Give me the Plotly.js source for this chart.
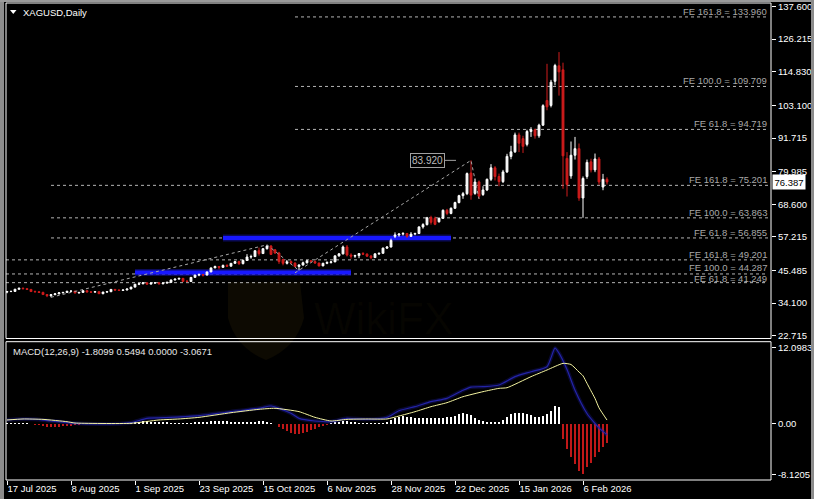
<!DOCTYPE html>
<html><head><meta charset="utf-8">
<script src="https://cdn.plot.ly/plotly-3.0.1.min.js"></script>
<style>html,body{margin:0;padding:0;background:#000;overflow:hidden;} #chart{width:814px;height:499px;}</style>
</head><body><div id="chart"></div>
<script>
// ---------------- DATA ----------------
const barDates = [
'2025-07-17','2025-07-18','2025-07-21','2025-07-22','2025-07-23','2025-07-24','2025-07-25','2025-07-28','2025-07-29','2025-07-30','2025-07-31',
'2025-08-01','2025-08-04','2025-08-05','2025-08-06','2025-08-07','2025-08-08','2025-08-11','2025-08-12','2025-08-13','2025-08-14','2025-08-15','2025-08-18','2025-08-19','2025-08-20','2025-08-21','2025-08-22','2025-08-25','2025-08-26','2025-08-27','2025-08-28','2025-08-29',
'2025-09-01','2025-09-02','2025-09-03','2025-09-04','2025-09-05','2025-09-08','2025-09-09','2025-09-10','2025-09-11','2025-09-12','2025-09-15','2025-09-16','2025-09-17','2025-09-18','2025-09-19','2025-09-22','2025-09-23','2025-09-24','2025-09-25','2025-09-26','2025-09-29','2025-09-30',
'2025-10-01','2025-10-02','2025-10-03','2025-10-06','2025-10-07','2025-10-08','2025-10-09','2025-10-10','2025-10-13','2025-10-14','2025-10-15','2025-10-16','2025-10-17','2025-10-20','2025-10-21','2025-10-22','2025-10-23','2025-10-24','2025-10-27','2025-10-28','2025-10-29','2025-10-30','2025-10-31',
'2025-11-03','2025-11-04','2025-11-05','2025-11-06','2025-11-07','2025-11-10','2025-11-11','2025-11-12','2025-11-13','2025-11-14','2025-11-17','2025-11-18','2025-11-19','2025-11-20','2025-11-21','2025-11-24','2025-11-25','2025-11-26','2025-11-27','2025-11-28',
'2025-12-01','2025-12-02','2025-12-03','2025-12-04','2025-12-05','2025-12-08','2025-12-09','2025-12-10','2025-12-11','2025-12-12','2025-12-15','2025-12-16','2025-12-17','2025-12-18','2025-12-19','2025-12-22','2025-12-23','2025-12-24','2025-12-26','2025-12-29','2025-12-30','2025-12-31',
'2026-01-02','2026-01-05','2026-01-06','2026-01-07','2026-01-08','2026-01-09','2026-01-12','2026-01-13','2026-01-14','2026-01-15','2026-01-16','2026-01-19','2026-01-20','2026-01-21','2026-01-22','2026-01-23','2026-01-26','2026-01-27','2026-01-28','2026-01-29','2026-01-30',
'2026-02-02','2026-02-03','2026-02-04','2026-02-05','2026-02-06','2026-02-09','2026-02-10','2026-02-11','2026-02-12','2026-02-13','2026-02-16'];

const openP = [37.95,38.15,38.20,38.95,39.30,39.15,38.90,38.15,38.05,37.85,37.10,
36.70,37.05,37.35,37.70,37.85,38.25,38.30,37.65,37.85,38.45,38.00,37.95,38.10,37.40,37.95,38.10,38.90,38.65,38.55,38.70,39.05,
39.70,40.70,40.85,41.20,40.75,41.10,41.20,40.85,41.10,41.35,42.20,42.50,42.75,41.75,41.65,43.10,43.90,44.05,43.90,45.00,46.40,46.90,
46.60,47.25,47.00,48.00,48.60,47.90,49.00,50.20,50.35,52.40,51.40,53.10,54.00,52.70,51.60,49.30,48.00,48.60,48.10,46.90,47.40,48.20,48.90,
48.60,48.10,47.10,48.00,48.30,48.50,50.60,51.30,53.70,50.90,50.50,50.70,51.40,51.20,50.50,50.00,51.30,51.50,53.30,53.70,
57.40,57.90,58.20,58.40,57.40,58.20,58.40,60.70,61.50,64.00,63.70,62.50,63.70,66.50,65.40,67.20,69.20,71.60,72.30,79.50,72.40,76.40,
72.00,73.60,77.30,81.30,78.30,76.50,79.90,85.30,86.90,92.80,91.50,89.50,94.00,94.60,92.50,96.20,104.80,103.10,111.50,116.90,115.50,
84.60,78.50,85.70,88.00,70.80,78.30,83.40,80.60,84.40,74.60,77.30];

const highP = [38.35,38.45,39.10,39.45,39.55,39.35,39.05,38.50,38.30,38.10,37.25,
37.25,37.50,37.85,38.00,38.35,38.55,38.45,37.95,38.55,38.55,38.20,38.20,38.15,38.10,38.30,39.00,39.05,38.90,38.80,39.15,39.80,
40.80,41.00,41.45,41.30,41.30,41.40,41.50,41.20,41.60,42.30,42.60,42.95,42.90,42.20,43.20,44.00,44.45,44.30,45.10,46.50,47.20,47.00,
47.60,47.70,48.10,48.80,48.90,49.30,51.20,51.00,52.50,53.50,53.30,54.45,54.40,53.00,52.00,49.60,49.00,49.00,48.30,47.70,48.60,49.20,49.10,
49.00,48.20,48.20,48.70,48.80,50.70,51.60,54.20,54.40,51.50,51.00,51.60,51.90,51.50,50.90,51.50,51.70,53.50,54.00,56.60,
58.80,58.50,58.90,58.60,58.90,58.70,60.90,62.00,64.20,64.60,64.30,64.00,66.80,67.00,67.50,69.50,71.90,72.90,79.70,83.92,77.60,76.90,
74.90,77.60,82.60,81.90,79.30,80.60,86.20,89.00,93.60,93.60,92.50,94.60,95.50,95.00,96.70,103.50,117.60,112.00,117.60,121.70,118.00,
86.80,90.50,92.10,89.80,78.30,84.20,84.50,86.30,85.10,79.20,78.00];

const lowP = [37.55,37.95,38.05,38.80,38.95,38.75,38.00,37.95,37.70,37.00,36.20,
36.15,36.90,37.20,37.50,37.70,38.00,37.50,37.45,37.80,37.85,37.80,37.85,37.30,37.20,37.80,37.95,38.55,38.40,38.35,38.55,38.95,
39.60,40.40,40.70,40.50,40.60,40.95,40.70,40.70,40.90,41.30,42.00,42.30,41.50,41.45,41.60,42.95,43.50,43.40,43.80,44.90,46.30,45.90,
46.40,46.80,46.90,47.80,47.40,47.60,48.90,49.60,50.20,50.70,51.30,52.80,50.90,51.30,47.80,47.30,47.60,47.70,46.70,45.52,47.20,47.90,48.30,
47.80,46.90,47.00,47.70,47.90,48.40,50.30,51.10,50.40,49.60,49.90,49.80,50.90,50.20,49.40,49.90,50.90,51.40,53.00,53.50,
56.80,57.30,57.70,56.90,57.20,57.80,58.20,60.10,61.20,61.50,61.30,62.20,63.50,64.80,65.10,67.00,68.90,70.50,71.80,70.20,71.90,70.47,
71.50,73.20,76.70,76.90,74.90,76.00,79.50,84.30,86.50,86.80,86.50,88.80,92.10,91.50,91.80,95.90,101.40,102.40,110.10,106.50,74.00,
71.30,77.50,84.20,69.80,63.90,77.50,79.70,79.80,75.40,73.50,75.50];

const closeP = [38.15,38.20,38.95,39.30,39.15,38.90,38.15,38.05,37.85,37.10,36.70,
37.05,37.35,37.70,37.85,38.25,38.30,37.65,37.85,38.45,38.00,37.95,38.10,37.40,37.95,38.10,38.90,38.65,38.55,38.70,39.05,39.70,
40.70,40.85,41.20,40.75,41.10,41.20,40.85,41.10,41.35,42.20,42.50,42.75,41.70,41.65,43.10,43.90,44.05,43.90,45.00,46.40,46.90,46.60,
47.25,47.00,48.00,48.60,47.90,49.00,50.20,50.35,52.40,51.40,53.10,54.00,51.10,51.60,48.60,48.00,48.60,48.10,46.90,47.40,48.20,48.90,48.60,
48.10,47.10,48.00,48.30,48.50,50.60,51.30,53.70,50.90,50.50,50.70,51.40,51.20,50.50,50.00,51.30,51.50,53.30,53.70,56.00,
57.90,58.20,58.40,57.40,58.20,58.40,60.70,61.50,63.90,62.30,61.60,63.70,66.50,65.40,67.20,69.20,71.60,72.30,79.30,71.80,76.40,71.40,
73.60,77.30,81.30,78.30,76.50,79.90,85.30,86.90,92.80,89.90,88.80,94.00,94.60,92.50,96.20,103.00,102.60,111.20,117.00,114.80,85.50,
75.50,85.70,88.00,70.80,77.60,83.20,80.60,84.40,76.40,77.30,76.387];

// MACD(12,26,9) panel values
const histVal = [0.1,0.1,0.1,0.1,0.1,0.05,0,
-0.2,-0.3,-0.4,-0.5,-0.5,-0.5,-0.5,-0.45,-0.4,-0.35,-0.3,-0.2,
-0.1,-0.1,-0.1,-0.1,-0.1,-0.1,-0.1,-0.05,0,0.02,0.02,0.05,
0.2,0.3,0.3,0.35,0.35,0.3,0.3,0.25,0.2,0.2,0.15,0.15,0.1,0.05,0.05,0.05,
0.2,0.25,0.3,0.3,0.35,0.4,0.4,0.35,0.35,0.3,0.3,0.3,0.25,0.25,0.3,0.3,0.35,0.45,0.3,0.1,0,
-0.5,-0.9,-1.2,-1.5,-1.6,-1.6,-1.5,-1.3,-1.1,-0.9,-0.6,-0.4,-0.2,
0.1,0.2,0.3,0.4,0.35,0.3,0.2,0.1,0.05,0.02,0.02,0.02,0.02,0.05,
0.3,0.6,0.9,1.0,1.2,1.1,1.0,0.95,0.9,0.85,0.8,0.8,0.8,0.85,0.9,1.0,1.1,1.2,
1.5,1.6,1.5,1.3,0.8,0.6,0.4,0.3,0.3,0.2,0.2,
0.5,1.0,1.5,1.7,1.6,1.6,1.5,1.3,1.0,1.0,1.2,1.5,2.0,2.8,2.6,
-2.5,-4.0,-5.3,-6.5,-7.5,-8.1,-7.0,-6.3,-5.3,-4.5,-3.8,-3.07];
const macdIdx = [0,4,7,11,17,23,31,35,41,48,56,63,66,68,71,73,77,81,85,90,95,98,102,106,110,114,116,119,123,127,131,135,137,138,140,142,145,147,148,150];
const macdVal = [0.56,0.72,0.68,0.4,0.03,-0.08,0.13,0.82,0.98,1.25,1.88,2.42,2.79,2.42,1.62,0.82,0.4,0.29,0.82,0.66,0.98,2.04,2.68,3.48,4.01,5.3,5.8,5.87,6.13,7.46,8.25,9.05,12.0,11.2,8.6,5.3,1.6,0.0,-0.7,-1.81];
const sigIdx = [0,4,9,15,17,31,38,43,48,56,63,67,73,77,81,85,90,95,98,102,106,110,114,119,123,125,131,135,139,141,143,144,145,146,147,148,149,150];
const sigVal = [0.56,0.72,0.66,0.29,0.08,0.03,0.56,0.72,0.98,1.72,2.26,2.42,1.89,0.98,0.4,0.66,0.72,0.72,1.19,1.88,2.68,3.32,4.27,5.07,5.6,5.7,7.46,8.52,9.58,9.4,8.2,7.6,6.4,5.2,4.0,2.5,1.5,0.55];
const macdLegend = 'MACD(12,26,9) -1.8099 0.5494 0.0000 -3.0671';

// Fibonacci expansion levels
const fibLevels = [133.960,109.709,94.719,75.201,63.863,56.855,49.201,44.287,41.249];
const fibLabels = ['FE 161.8 = 133.960','FE 100.0 = 109.709','FE 61.8 = 94.719','FE 161.8 = 75.201','FE 100.0 = 63.863','FE 61.8 = 56.855','FE 161.8 = 49.201','FE 100.0 = 44.287','FE 61.8 = 41.249'];
const fibStartIdx = [72,72,72,11,11,11,0,0,0];
// Fibonacci anchor points (A, B, C) for the two visible expansions
const fibMidIdx = [11,65,73];   const fibMidPrice = [36.15,54.45,45.517];
const fibTopIdx = [72,116,118]; const fibTopPrice = [44.68,83.92,70.47];
const peakLabel = 83.920;
// Blue horizontal zones
const bandStartIdx = [54,32]; const bandEndIdx = [111,86]; const bandLevel = [56.8,44.8];
// Axis ticks
const priceTicks = [137.600,126.215,114.830,103.100,91.715,79.985,68.600,57.215,45.485,34.100,22.715];
const macdTicks = [12.0983,0,-8.1205];
const macdTickText = ['12.0983','0.00','-8.1205'];
const tickDates = ['2025-07-17','2025-08-08','2025-09-01','2025-09-23','2025-10-15','2025-11-06','2025-11-28','2025-12-22','2026-01-15','2026-02-06'];
const tickLabels = ['17 Jul 2025','8 Aug 2025','1 Sep 2025','23 Sep 2025','15 Oct 2025','6 Nov 2025','28 Nov 2025','22 Dec 2025','15 Jan 2026','6 Feb 2026'];
const symbolTitle = 'XAGUSD,Daily';
const lastPrice = 76.387;

// ---------------- LAYOUT HELPERS ----------------
const W = 814, H = 499, ML = 6, MR = 43, MT = 3, MB = 19;
const PW = W - ML - MR, PH = H - MT - MB;
const PX = p => (p - ML) / PW;
const PY = p => (H - MB - p) / PH;
const FONT = 'Liberation Sans, Arial, sans-serif';
const RED = '#d01c1c';
const xEnd = 190.25;

const traces = [];
traces.push({
  type: 'candlestick', x: barDates, open: openP, high: highP, low: lowP, close: closeP,
  xaxis: 'x', yaxis: 'y',
  increasing: {line: {color: '#ffffff', width: 1}, fillcolor: '#ffffff'},
  decreasing: {line: {color: RED, width: 1}, fillcolor: RED},
  whiskerwidth: 0, hoverinfo: 'skip', showlegend: false
});
traces.push({type: 'scatter', mode: 'lines', x: fibMidIdx.map(i => barDates[i]), y: fibMidPrice,
  line: {color: '#a8a8a8', width: 1, dash: 'dot'}, xaxis: 'x', yaxis: 'y', hoverinfo: 'skip', showlegend: false});
traces.push({type: 'scatter', mode: 'lines', x: fibTopIdx.map(i => barDates[i]), y: fibTopPrice,
  line: {color: '#a8a8a8', width: 1, dash: 'dot'}, xaxis: 'x', yaxis: 'y', hoverinfo: 'skip', showlegend: false});

traces.push({type: 'bar', x: barDates, y: histVal, width: 0.3,
  marker: {color: histVal.map(v => v >= 0 ? '#ffffff' : '#c01818'), line: {width: 0}},
  xaxis: 'x2', yaxis: 'y2', hoverinfo: 'skip', showlegend: false});
traces.push({type: 'scatter', mode: 'lines', x: macdIdx.map(i => barDates[i]), y: macdVal,
  line: {color: 'rgba(40,40,220,0.22)', width: 4, shape: 'spline', smoothing: 0.6}, xaxis: 'x2', yaxis: 'y2', hoverinfo: 'skip', showlegend: false});
traces.push({type: 'scatter', mode: 'lines', x: macdIdx.map(i => barDates[i]), y: macdVal,
  line: {color: '#2424a8', width: 1.2, shape: 'spline', smoothing: 0.6}, xaxis: 'x2', yaxis: 'y2', hoverinfo: 'skip', showlegend: false});
traces.push({type: 'scatter', mode: 'lines', x: sigIdx.map(i => barDates[i]), y: sigVal,
  line: {color: '#f4f4a0', width: 1, shape: 'spline', smoothing: 0.5}, xaxis: 'x2', yaxis: 'y2', hoverinfo: 'skip', showlegend: false});

const shapes = [];
// watermark (very faint)
shapes.push({type: 'path', xref: 'paper', yref: 'paper', layer: 'below',
  path: `M ${PX(228)} ${PY(282)} L ${PX(300)} ${PY(282)} L ${PX(304)} ${PY(318)} Q ${PX(296)} ${PY(348)} ${PX(266)} ${PY(360)} Q ${PX(236)} ${PY(348)} ${PX(228)} ${PY(318)} Z`,
  fillcolor: 'rgba(120,95,20,0.11)', line: {width: 0}});
// fib levels
fibLevels.forEach((lv, k) => {
  shapes.push({type: 'line', xref: 'x', yref: 'y', x0: fibStartIdx[k] === 0 ? -0.25 : fibStartIdx[k], x1: xEnd, y0: lv, y1: lv,
    line: {color: '#b4b4b4', width: 1, dash: '3px,3px'}, layer: 'below'});
});
// blue zones
bandLevel.forEach((lv, k) => {
  shapes.push({type: 'line', xref: 'x', yref: 'y', x0: bandStartIdx[k], x1: bandEndIdx[k], y0: lv, y1: lv,
    line: {color: 'rgba(30,30,255,0.35)', width: 7}, layer: 'below'});
  shapes.push({type: 'line', xref: 'x', yref: 'y', x0: bandStartIdx[k], x1: bandEndIdx[k], y0: lv, y1: lv,
    line: {color: '#1818ff', width: 4}, layer: 'below'});
});
// frames
shapes.push({type: 'rect', xref: 'paper', yref: 'paper', x0: 0, x1: 1, y0: PY(338.5), y1: 1, line: {color: '#ffffff', width: 1}});
shapes.push({type: 'rect', xref: 'paper', yref: 'paper', x0: 0, x1: 1, y0: 0, y1: PY(341.7), line: {color: '#ffffff', width: 1}});
// outer window border
shapes.push({type: 'rect', xref: 'paper', yref: 'paper', x0: PX(0), x1: PX(4), y0: PY(499), y1: PY(0), fillcolor: '#8c8c8c', line: {width: 0}});
shapes.push({type: 'rect', xref: 'paper', yref: 'paper', x0: PX(0), x1: PX(814), y0: PY(2), y1: PY(0), fillcolor: '#9a9a9a', line: {width: 0}});
shapes.push({type: 'rect', xref: 'paper', yref: 'paper', x0: PX(811), x1: PX(814), y0: PY(499), y1: PY(0), fillcolor: '#8c8c8c', line: {width: 0}});
// title triangle
shapes.push({type: 'path', xref: 'paper', yref: 'paper',
  path: `M ${PX(10)} ${PY(10)} L ${PX(16.5)} ${PY(10)} L ${PX(13.25)} ${PY(14)} Z`, fillcolor: '#ffffff', line: {width: 0}});

const annotations = [];
annotations.push({xref: 'paper', yref: 'paper', x: PX(21), y: PY(12.5), xanchor: 'left', yanchor: 'middle',
  text: symbolTitle, showarrow: false, font: {family: FONT, size: 9.5, color: '#ffffff'}});
annotations.push({xref: 'paper', yref: 'paper', x: PX(11), y: PY(351), xanchor: 'left', yanchor: 'middle',
  text: macdLegend, showarrow: false, font: {family: FONT, size: 9.5, color: '#e8e8e8'}});
fibLevels.forEach((lv, k) => {
  annotations.push({xref: 'x', yref: 'y', x: xEnd, y: lv, xanchor: 'right', yanchor: 'bottom', yshift: k === 8 ? -2 : (k === 7 ? 0 : -1),
    text: fibLabels[k], showarrow: false, borderpad: 0, font: {family: FONT, size: 9.5, color: '#a8a8a8'}});
});
annotations.push({xref: 'x', yref: 'y', x: 112.25, y: peakLabel, text: peakLabel.toFixed(3), showarrow: true,
  arrowhead: 0, arrowwidth: 1, arrowcolor: '#a0a0a0', ax: -29, ay: 0, standoff: 0,
  bordercolor: '#a0a0a0', borderwidth: 1, borderpad: 1, bgcolor: '#000000',
  font: {family: FONT, size: 10, color: '#bdbdbd'}});
annotations.push({xref: 'paper', yref: 'y', x: 1, y: lastPrice, xanchor: 'left', yanchor: 'middle', xshift: 1,
  text: lastPrice.toFixed(3), showarrow: false, bgcolor: '#ffffff', borderpad: 1.5,
  font: {family: FONT, size: 9.5, color: '#000000'}});
annotations.push({xref: 'paper', yref: 'paper', x: PX(312), y: PY(318), xanchor: 'left', yanchor: 'middle',
  text: 'WikiFX', showarrow: false, font: {family: FONT, size: 44, color: 'rgba(110,90,25,0.06)'}});

const axisFont = {family: FONT, size: 9.5, color: '#ffffff'};
const layout = {
  width: W, height: H, margin: {l: ML, r: MR, t: MT, b: MB, pad: 0},
  paper_bgcolor: '#000000', plot_bgcolor: '#000000', showlegend: false, dragmode: false,
  boxgap: 0.35, bargap: 0,
  xaxis: {domain: [0, 1], anchor: 'y', type: 'category', range: [-0.25, 191], showticklabels: false, ticks: '',
    showgrid: false, zeroline: false, showline: false, rangeslider: {visible: false}, fixedrange: true},
  yaxis: {domain: [PY(338.5), 1], anchor: 'x', side: 'right', range: [21.77, 138.82],
    tickvals: priceTicks, ticktext: priceTicks.map(v => v.toFixed(3)), ticks: 'outside', ticklen: 4, tickcolor: '#ffffff',
    tickfont: axisFont, showgrid: false, zeroline: false, showline: false, fixedrange: true},
  xaxis2: {domain: [0, 1], anchor: 'y2', type: 'category', range: [-0.25, 191],
    tickvals: tickDates, ticktext: tickLabels, ticks: 'outside', ticklen: 4, tickcolor: '#ffffff',
    ticklabelposition: 'outside right', tickfont: axisFont, tickangle: 0,
    showgrid: false, zeroline: false, showline: false, fixedrange: true},
  yaxis2: {domain: [0, PY(341.7)], anchor: 'x2', side: 'right', range: [-9.0, 13.03],
    tickvals: macdTicks, ticktext: macdTickText, ticks: 'outside', ticklen: 4, tickcolor: '#ffffff',
    tickfont: axisFont, showgrid: false, zeroline: false, showline: false, fixedrange: true},
  shapes: shapes, annotations: annotations
};
Plotly.newPlot('chart', traces, layout, {displayModeBar: false, staticPlot: true});
</script>
</body></html>
